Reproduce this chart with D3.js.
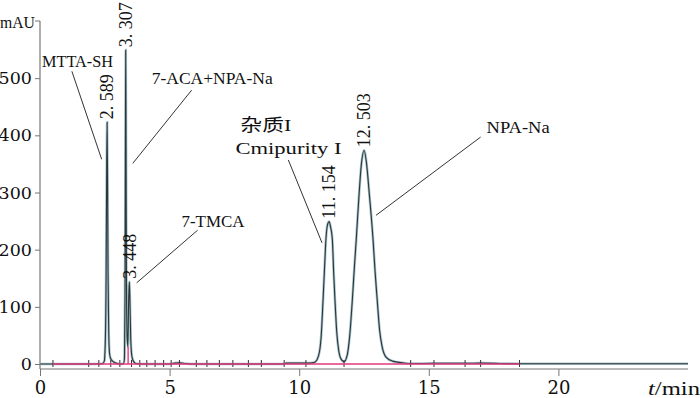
<!DOCTYPE html>
<html>
<head>
<meta charset="utf-8">
<script src="https://cdn.jsdelivr.net/npm/d3@7"></script>
<style>
  body { margin: 0; background: #fff; }
  svg { display: block; }
</style>
</head>
<body>
<div id="chart"></div>
<script>
'use strict';

// chromatogram trace (min, mAU)
const traceTime = [0, 0.5, 1.8, 2.40, 2.48, 2.52, 2.55, 2.57, 2.589, 2.605, 2.625, 2.65, 2.68, 2.72, 2.80, 2.90, 3.10,
  3.22, 3.26, 3.28, 3.295, 3.307, 3.32, 3.335, 3.36, 3.39, 3.42, 3.448, 3.47, 3.50, 3.54, 3.60, 3.70, 4.0,
  5.0, 5.2, 5.4, 5.6, 6.0, 9.4, 9.5, 10.3, 10.5, 10.60, 10.75, 10.85, 10.92, 10.98, 11.03, 11.10, 11.154,
  11.21, 11.28, 11.33, 11.38, 11.45, 11.52, 11.60, 11.73, 11.85, 11.95, 12.05, 12.13, 12.20, 12.30, 12.40,
  12.503, 12.60, 12.70, 12.85, 12.93, 13.01, 13.10, 13.20, 13.35, 13.60, 14.00, 14.30, 15.2, 16.4, 17.0, 18.5, 25];
const traceMAU = [0, 0, 0, 0.5, 5, 40, 150, 320, 423, 330, 160, 60, 20, 10, 5, 2, 0,
  0.5, 10, 120, 380, 549, 380, 150, 50, 30, 110, 144, 110, 45, 15, 5, 1, 0,
  0, 1.5, 2, 1, 0, 0, 1.5, 1.5, 2, 3, 15, 50, 112, 170, 217, 245, 249,
  240, 217, 160, 112, 55, 25, 10, 4, 15, 50, 112, 170, 217, 290, 350,
  374, 350, 300, 217, 160, 112, 60, 30, 12, 5, 2, 0.8, 1.2, 1.2, 1.5, 0.5, 0.5];

const peakTimes = [2.589, 3.307, 3.448, 11.154, 12.503];
const peakHeights = [423, 549, 144, 249, 374];
const peakLabels = ['2. 589', '3. 307', '3. 448', '11. 154', '12. 503'];

// integration event marks and baseline
const eventTimes = [0.5, 1.88, 2.27, 2.73, 3.08, 3.53, 3.85, 4.12, 4.44, 4.77, 5.06, 5.38, 6.03, 6.44, 6.92,
  7.44, 8.04, 8.54, 9.42, 10.26, 11.73, 14.3, 15.2, 16.4, 17.0, 18.5];
const baselineTimes = [0.5, 18.5];
const dropTime = 3.40;
const dropMAU = 30;

const xTicks = [0, 5, 10, 15, 20];
const yTicks = [0, 100, 200, 300, 400, 500];

// compound names with leader lines, in (min, mAU)
const compoundNames = ['MTTA-SH', '7-ACA+NPA-Na', '7-TMCA', '杂质I', 'Cmipurity I', 'NPA-Na'];
const nameAt = [[0.08, 519], [4.31, 490], [5.46, 240], [7.73, 407], [7.54, 367], [17.23, 404]];
const leaders = [
  [[1.23, 512], [2.38, 358]],
  [[5.85, 479], [3.58, 351]],
  [[6.08, 234], [3.73, 142]],
  [[9.58, 357], [10.88, 212]],
  [[17.0, 397], [12.96, 260]]
];
const nameWidths = [71, 121, 63, 51, 106, 63];

const width = 700, height = 398;
const svg = d3.select('#chart').append('svg')
  .attr('width', width)
  .attr('height', height);

const x = d3.scaleLinear().domain([0, 25]).range([40, 688]);
const y = d3.scaleLinear().domain([0, 600]).range([364, 21]);
const axisY = 369;
const serif = '"Liberation Serif", "Noto Sans CJK SC", serif';
const tickFont = '"DejaVu Serif", serif';

// axes
svg.append('line')
  .attr('x1', x(0)).attr('x2', x(0))
  .attr('y1', y(600)).attr('y2', axisY)
  .attr('stroke', '#777').attr('stroke-width', 1.2);
svg.append('line')
  .attr('x1', x(0)).attr('x2', x(25))
  .attr('y1', axisY).attr('y2', axisY)
  .attr('stroke', '#777').attr('stroke-width', 1.2);

const xAxis = d3.axisBottom(x).tickValues(xTicks).tickSize(7).tickPadding(5);
const gx = svg.append('g').attr('transform', `translate(0, ${axisY})`).call(xAxis);
gx.select('.domain').remove();
gx.selectAll('line').attr('stroke', '#777');
gx.selectAll('text').attr('font-family', tickFont).attr('font-size', 18).attr('fill', '#111');

const yAxis = d3.axisLeft(y).tickValues(yTicks).tickSize(5).tickPadding(3);
const gy = svg.append('g').attr('transform', `translate(${x(0)}, 0)`).call(yAxis);
gy.select('.domain').remove();
gy.selectAll('line').attr('stroke', '#777');
gy.selectAll('text').attr('font-family', tickFont).attr('font-size', 17.5).attr('fill', '#111');

// mAU top tick
svg.append('line')
  .attr('x1', x(0) - 5).attr('x2', x(0))
  .attr('y1', y(600)).attr('y2', y(600))
  .attr('stroke', '#777');
svg.append('text')
  .attr('x', 0).attr('y', y(600) + 7)
  .attr('font-family', serif).attr('font-size', 17).attr('fill', '#111')
  .attr('textLength', 35).attr('lengthAdjust', 'spacingAndGlyphs')
  .text('mAU');

// axis title t/min
const title = svg.append('text')
  .attr('x', 648).attr('y', 395)
  .attr('font-family', serif).attr('font-size', 19).attr('fill', '#111')
  .attr('textLength', 52).attr('lengthAdjust', 'spacingAndGlyphs');
title.append('tspan').attr('font-style', 'italic').text('t');
title.append('tspan').text('/min');

// trace
const points = traceTime.map((t, i) => [t, traceMAU[i]]);
const line = d3.line()
  .x(d => x(d[0]))
  .y(d => y(d[1]))
  .curve(d3.curveMonotoneX);

svg.append('path')
  .datum(points)
  .attr('d', line)
  .attr('fill', 'none')
  .attr('stroke', '#a8c4cc')
  .attr('stroke-width', 2.6);
svg.append('path')
  .datum(points)
  .attr('d', line)
  .attr('fill', 'none')
  .attr('stroke', '#2b363a')
  .attr('stroke-width', 1.1);

// event marks
svg.selectAll('.event')
  .data(eventTimes)
  .enter().append('line')
  .attr('class', 'event')
  .attr('x1', d => x(d)).attr('x2', d => x(d))
  .attr('y1', y(0) - 4).attr('y2', y(0) + 3)
  .attr('stroke', '#333')
  .attr('stroke-width', 1);

// baseline and drop line
svg.append('line')
  .attr('x1', x(baselineTimes[0])).attr('x2', x(baselineTimes[1]))
  .attr('y1', y(0)).attr('y2', y(0))
  .attr('stroke', '#e5387c')
  .attr('stroke-width', 1.6);
svg.append('line')
  .attr('x1', x(dropTime)).attr('x2', x(dropTime))
  .attr('y1', y(0)).attr('y2', y(dropMAU))
  .attr('stroke', '#e5387c')
  .attr('stroke-width', 1.4);

// retention time labels
svg.selectAll('.rt')
  .data(peakTimes)
  .enter().append('text')
  .attr('class', 'rt')
  .attr('transform', (d, i) => `translate(${x(d)}, ${y(peakHeights[i]) - 3}) rotate(-90)`)
  .attr('dy', '0.35em')
  .attr('font-family', serif)
  .attr('font-size', 18)
  .attr('fill', '#111')
  .text((d, i) => peakLabels[i]);

// compound names
svg.selectAll('.name')
  .data(compoundNames)
  .enter().append('text')
  .attr('class', 'name')
  .attr('x', (d, i) => x(nameAt[i][0]))
  .attr('y', (d, i) => y(nameAt[i][1]))
  .attr('font-family', serif)
  .attr('font-size', 17)
  .attr('fill', '#111')
  .attr('textLength', (d, i) => nameWidths[i])
  .attr('lengthAdjust', 'spacingAndGlyphs')
  .text(d => d);

svg.selectAll('.leader')
  .data(leaders)
  .enter().append('line')
  .attr('class', 'leader')
  .attr('x1', d => x(d[0][0])).attr('y1', d => y(d[0][1]))
  .attr('x2', d => x(d[1][0])).attr('y2', d => y(d[1][1]))
  .attr('stroke', '#333')
  .attr('stroke-width', 1);
</script>
</body>
</html>
